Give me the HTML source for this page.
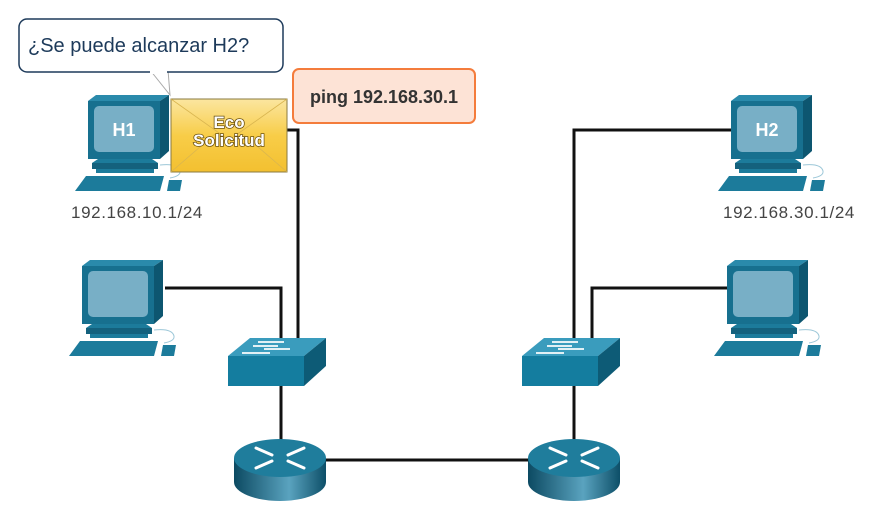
<!DOCTYPE html>
<html><head><meta charset="utf-8"><style>
html,body{margin:0;padding:0;background:#fff;}
svg{display:block;font-family:"Liberation Sans",sans-serif;}
</style></head><body>
<svg width="878" height="508" viewBox="0 0 878 508" xmlns="http://www.w3.org/2000/svg">
<defs>
<linearGradient id="env" x1="0" y1="0" x2="0" y2="1"><stop offset="0" stop-color="#fbe6a0"/><stop offset="0.5" stop-color="#f8cd48"/><stop offset="1" stop-color="#f3c030"/></linearGradient>
<linearGradient id="rside" x1="0" y1="0" x2="1" y2="0"><stop offset="0" stop-color="#0c4a62"/><stop offset="0.6" stop-color="#5aa3bf"/><stop offset="1" stop-color="#0d4f68"/></linearGradient>
<g id="pc">
<polygon points="0,0 8,-6 81,-6 72,0" fill="#2a8aab"/>
<polygon points="72,0 81,-6 81,50 72,58" fill="#0d5670"/>
<rect x="0" y="0" width="72" height="58" fill="#17708f"/>
<rect x="6" y="5" width="60" height="46" rx="5" fill="#78afc6"/>
<polygon points="10,58 64,58 70,62 4,62" fill="#1c7b9b"/>
<rect x="4" y="62" width="66" height="6" fill="#14617d"/>
<polygon points="8,68 66,68 66,72 8,72" fill="#1c7b9b"/>
<polygon points="-2,75 76,75 72,90 -13,90" fill="#1c7b9b"/>
<path d="M72,64 q18,-2 20,6 q1,5 -10,7" fill="none" stroke="#9cc7d8" stroke-width="1"/>
<polygon points="81,79 94,79 92,90 79,90" fill="#1c7b9b"/>
</g>
<g id="sw">
<polygon points="0,18 22,0 98,0 76,18" fill="#3a9cbd"/>
<polygon points="76,18 98,0 98,28 76,48" fill="#0d5b76"/>
<rect x="0" y="18" width="76" height="30" fill="#147d9f"/>
<g stroke="#fff" stroke-width="2" opacity="0.85">
<line x1="30" y1="4" x2="56" y2="4"/><line x1="25" y1="8" x2="50" y2="8"/><line x1="36" y1="11" x2="62" y2="11"/><line x1="14" y1="15" x2="42" y2="15"/>
</g>
</g>
<g id="rt">
<path d="M0,22 v24 a46,19 0 0 0 92,0 v-24z" fill="url(#rside)"/>
<ellipse cx="46" cy="22" rx="46" ry="19" fill="#1f7d9c"/>
<g stroke="#fff" stroke-width="3" stroke-linecap="round">
<line x1="22" y1="12" x2="38" y2="19"/><line x1="70" y1="12" x2="54" y2="19"/>
<line x1="22" y1="32" x2="38" y2="25"/><line x1="70" y1="32" x2="54" y2="25"/>
</g>
</g>
</defs>

<g stroke="#111" stroke-width="3" fill="none">
<polyline points="287,130 298,130 298,340"/>
<polyline points="165,288 281,288 281,340"/>
<line x1="281" y1="386" x2="281" y2="440"/>
<line x1="574" y1="386" x2="574" y2="440"/>
<line x1="326" y1="460" x2="528" y2="460"/>
<polyline points="731,130 574,130 574,340"/>
<polyline points="727,288 592,288 592,340"/>
</g>

<use href="#pc" x="88" y="101"/>
<use href="#pc" x="82" y="266"/>
<use href="#pc" x="731" y="101"/>
<use href="#pc" x="727" y="266"/>
<text x="124" y="136" fill="#fff" font-size="18" font-weight="bold" text-anchor="middle">H1</text>
<text x="767" y="136" fill="#fff" font-size="18" font-weight="bold" text-anchor="middle">H2</text>
<text x="137" y="218" fill="#444" font-size="17" letter-spacing="0.6" text-anchor="middle">192.168.10.1/24</text>
<text x="789" y="218" fill="#444" font-size="17" letter-spacing="0.6" text-anchor="middle">192.168.30.1/24</text>

<use href="#sw" x="228" y="338"/>
<use href="#sw" x="522" y="338"/>
<use href="#rt" x="234" y="436"/>
<use href="#rt" x="528" y="436"/>

<polygon points="150,70 170,95 168,70" fill="#fff" stroke="#aaa" stroke-width="1"/>
<rect x="19" y="19" width="264" height="53" rx="8" fill="#fff" stroke="#1d3a5a" stroke-width="1.5"/>
<rect x="150" y="68" width="17" height="6" fill="#fff"/>
<text x="28" y="52" fill="#1d3a5a" font-size="20">¿Se puede alcanzar H2?</text>

<rect x="293" y="69" width="182" height="54" rx="6" fill="#fde3d6" stroke="#f47c3c" stroke-width="2"/>
<text x="384" y="103" fill="#333" font-size="18" font-weight="bold" text-anchor="middle">ping 192.168.30.1</text>

<rect x="171" y="99" width="116" height="73" fill="url(#env)" stroke="#8a7a40" stroke-width="1"/>
<path d="M171,99 L229,140 L287,99 M171,172 L215,134 M287,172 L243,134" fill="none" stroke="#d9b550" stroke-width="0.8"/>
<g font-size="17" font-weight="bold" fill="#fff" text-anchor="middle" stroke="#6a5010" stroke-width="1.5" paint-order="stroke">
<text x="229" y="128">Eco</text>
<text x="229" y="146">Solicitud</text>
</g>
</svg>
</body></html>
